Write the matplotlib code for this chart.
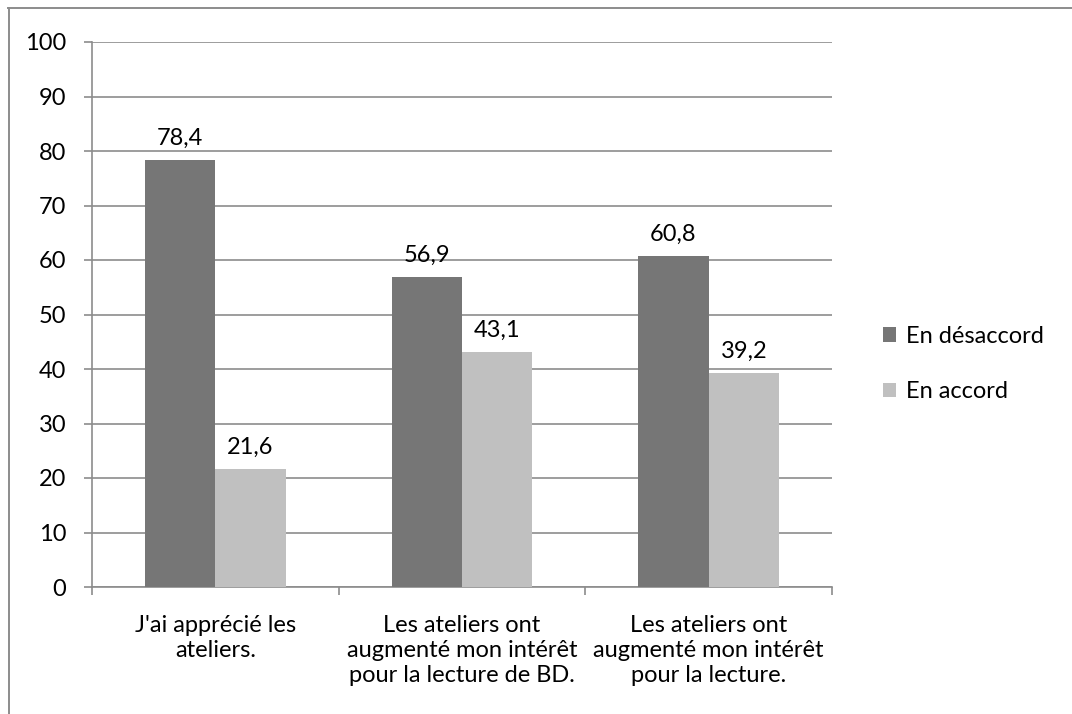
import matplotlib
matplotlib.use("Agg")
import matplotlib.pyplot as plt
from matplotlib.lines import Line2D
from matplotlib.patches import Patch
import numpy as np

plt.rcParams['font.family'] = ['Lato', 'DejaVu Sans']

# Data
categories = ["J'ai apprécié les\nateliers.",
              "Les ateliers ont\naugmenté mon intérêt\npour la lecture de BD.",
              "Les ateliers ont\naugmenté mon intérêt\npour la lecture."]
desaccord = [78.4, 56.9, 60.8]
accord = [21.6, 43.1, 39.2]
series_names = ["En désaccord", "En accord"]
y_ticks = [0, 10, 20, 30, 40, 50, 60, 70, 80, 90, 100]

dark = "#767676"
light = "#c0c0c0"
grid_col = "#8c8c8c"
fs = 17

fig = plt.figure(figsize=(10.72, 7.14), dpi=100)
ax = fig.add_axes([92 / 1072, 1 - 587 / 714, 740 / 1072, 545 / 714])

x = np.arange(len(categories))
w = 1 / 3.5
b1 = ax.bar(x - w / 2, desaccord, w, color=dark, zorder=3)
b2 = ax.bar(x + w / 2, accord, w, color=light, zorder=3)

# value labels, with a comma as decimal separator
for bars, vals in ((b1, desaccord), (b2, accord)):
    for r, v in zip(bars, vals):
        ax.annotate(f"{v:.1f}".replace(".", ","),
                    (r.get_x() + r.get_width() / 2, v),
                    xytext=(0, 8), textcoords="offset points",
                    ha="center", va="bottom", fontsize=fs)

ax.set_xlim(-0.5, 2.5)
ax.set_ylim(0, 100)
ax.set_yticks(y_ticks)
ax.yaxis.grid(True, color=grid_col, linewidth=1.2, zorder=0)
ax.set_axisbelow(True)

ax.set_xticks([-0.5, 0.5, 1.5, 2.5])
ax.set_xticklabels([])
ax.set_xticks(x, minor=True)
ax.set_xticklabels(categories, minor=True, fontsize=fs, linespacing=1.25)
ax.tick_params(axis="x", which="minor", length=0, pad=20)
ax.tick_params(axis="x", which="major", length=5.5, color=grid_col, width=1.2)
ax.tick_params(axis="y", length=5.5, color=grid_col, width=1.2, pad=13,
               labelsize=fs)

for s in ("top", "right"):
    ax.spines[s].set_visible(False)
for s in ("left", "bottom"):
    ax.spines[s].set_color(grid_col)
    ax.spines[s].set_linewidth(1.2)

handles = [Patch(facecolor=dark), Patch(facecolor=light)]
leg = fig.legend(handles, series_names, loc="center left",
                 bbox_to_anchor=(862 / 1072, 1 - 364 / 714),
                 frameon=False, fontsize=fs, handlelength=0.55,
                 handleheight=0.55, handletextpad=0.4, labelspacing=1.45)

# outer chart frame (only top and left edges visible)
fig.add_artist(Line2D([8 / 1072, 1], [1 - 7.5 / 714, 1 - 7.5 / 714],
                      color=grid_col, linewidth=1.4, transform=fig.transFigure))
fig.add_artist(Line2D([8.5 / 1072, 8.5 / 1072], [0, 1 - 7.5 / 714],
                      color=grid_col, linewidth=1.4, transform=fig.transFigure))

fig.savefig("out.png", dpi=100)
